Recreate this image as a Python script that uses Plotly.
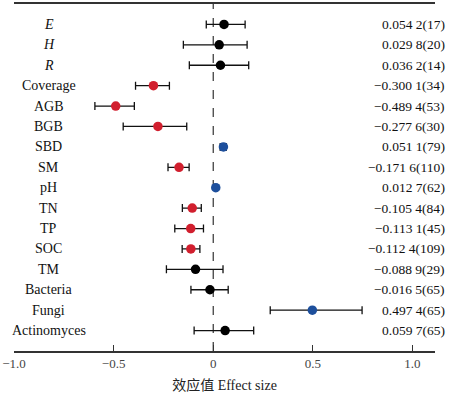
import plotly.graph_objects as go

labels = ["E", "H", "R", "Coverage", "AGB", "BGB", "SBD", "SM", "pH", "TN", "TP", "SOC", "TM", "Bacteria", "Fungi", "Actinomyces"]
effect = [0.0542, 0.0298, 0.0362, -0.3001, -0.4894, -0.2776, 0.0511, -0.1716, 0.0127, -0.1054, -0.1131, -0.1124, -0.0889, -0.0165, 0.4974, 0.0597]
ci_low = [-0.035, -0.15, -0.12, -0.39, -0.594, -0.452, 0.035, -0.227, 0.007, -0.155, -0.193, -0.156, -0.235, -0.112, 0.286, -0.096]
ci_high = [0.16, 0.17, 0.178, -0.22, -0.396, -0.133, 0.065, -0.121, 0.018, -0.06, -0.049, -0.067, 0.049, 0.075, 0.747, 0.203]
value_text = ["0.054 2(17)", "0.029 8(20)", "0.036 2(14)", "\u22120.300 1(34)", "\u22120.489 4(53)",
              "\u22120.277 6(30)", "0.051 1(79)", "\u22120.171 6(110)", "0.012 7(62)", "\u22120.105 4(84)",
              "\u22120.113 1(45)", "\u22120.112 4(109)", "\u22120.088 9(29)", "\u22120.016 5(65)",
              "0.497 4(65)", "0.059 7(65)"]
groups = ["ns", "ns", "ns", "neg", "neg", "neg", "pos", "neg", "pos", "neg", "neg", "neg", "ns", "ns", "pos", "ns"]
x_ticks = [-1.0, -0.5, 0, 0.5, 1.0]
x_tick_text = ["\u22121.0", "\u22120.5", "0", "0.5", "1.0"]

color_map = {"ns": "#000000", "neg": "#d11f2e", "pos": "#1d4f9c"}
n = len(labels)
ypos = [n - i for i in range(n)]
font_family = "Liberation Serif, Times New Roman, Noto Sans CJK SC, serif"

fig = go.Figure()
fig.add_trace(go.Scatter(
    x=effect, y=ypos, mode="markers",
    marker=dict(size=9.5, color=[color_map[g] for g in groups]),
    error_x=dict(type="data", symmetric=False,
                 array=[h - e for h, e in zip(ci_high, effect)],
                 arrayminus=[e - l for e, l in zip(effect, ci_low)],
                 color="#111111", thickness=1.3, width=4),
    showlegend=False, hoverinfo="skip", cliponaxis=False,
))

fig.add_shape(type="line", x0=0, x1=0, y0=0, y1=17, xref="x", yref="y",
              line=dict(color="#333333", width=1.2, dash="dash"), layer="below")

for i, lab in enumerate(labels):
    txt = f"<i>{lab}</i>" if lab in ("E", "H", "R") else lab
    fig.add_annotation(x=-0.826, y=ypos[i], xref="x", yref="y", text=txt, showarrow=False,
                       xanchor="center", yanchor="middle",
                       font=dict(family=font_family, size=14, color="#111111"))
    fig.add_annotation(x=1.029, y=ypos[i], xref="paper", yref="y", text=value_text[i], showarrow=False,
                       xanchor="right", yanchor="middle",
                       font=dict(family=font_family, size=13.5, color="#111111"))

fig.update_layout(
    width=450, height=396,
    margin=dict(l=13, r=15, t=2, b=45),
    paper_bgcolor="white", plot_bgcolor="white",
    font=dict(family=font_family, size=13, color="#222222"),
    xaxis=dict(range=[-1.0, 1.113], tickvals=x_ticks, ticktext=x_tick_text,
               ticks="inside", ticklen=6, tickwidth=1.2, tickcolor="#333333",
               showline=True, linecolor="#333333", linewidth=1.5, mirror=True,
               showgrid=False, zeroline=False,
               title=dict(text="效应值 Effect size", font=dict(size=14, family=font_family), standoff=10),
               tickfont=dict(size=13, color="#444444")),
    yaxis=dict(range=[0, 17], showticklabels=False, showgrid=False, zeroline=False,
               showline=False, ticks=""),
)

fig.write_html("out.html", config={"displayModeBar": False},
               post_script="document.body.style.margin='0';document.body.style.overflow='hidden';")
